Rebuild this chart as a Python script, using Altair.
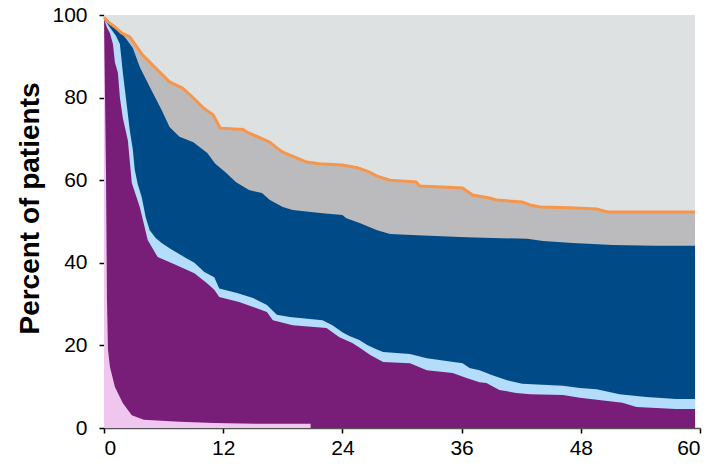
import altair as alt
import pandas as pd

# Follow-up time in months, cumulative percent of patients for each outcome boundary
END = 59.5

bg_month = [0, END]
bg_pct = [100, 100]

orange_month = [0, 0.4, 1.1, 1.8, 2.6, 3.3, 3.9, 4.6, 5.6, 6.6, 7.9, 9.0, 10.0, 11.0, 11.7,
                14.0, 14.5, 15.4, 16.7, 17.3, 18.0, 19.2, 20.4, 21.7, 24.0, 25.5, 26.5, 27.5, 28.8,
                31.4, 31.8, 36.1, 37.1, 38.8, 39.5, 42.1, 42.9, 43.9, 46.9, 49.6, 50.7, END]
orange_pct = [99.5, 98.3, 97.1, 95.6, 94.7, 92.3, 90.3, 88.6, 86.2, 83.8, 82.3, 79.9, 77.5, 75.8, 72.6,
              72.3, 71.5, 70.6, 69.2, 68.0, 66.8, 65.6, 64.4, 64.0, 63.7, 63.0, 62.2, 61.0, 60.0,
              59.6, 58.6, 58.1, 56.4, 55.7, 55.2, 54.7, 54.0, 53.5, 53.3, 53.0, 52.3, 52.3]

blue_month = [0, 0.6, 1.3, 2.3, 2.9, 3.6, 4.6, 5.8, 6.6, 7.6, 9.0, 10.4, 11.2, 12.2, 13.3, 14.6,
              15.9, 16.7, 18.0, 19.0, 22.0, 24.0, 24.4, 25.8, 27.5, 28.8, 31.5, 36.5, 42.6,
              44.2, 47.2, 51.2, 55.4, END]
blue_pct = [99.5, 98.3, 96.9, 94.0, 92.0, 87.4, 82.6, 77.0, 72.9, 70.5, 69.2, 66.6, 64.0, 62.0, 59.5, 57.6,
            56.9, 55.2, 53.5, 52.8, 52.0, 51.6, 50.8, 49.6, 47.9, 47.0, 46.7, 46.2, 45.8,
            45.3, 44.8, 44.3, 44.1, 44.1]

light_month = [0, 0.6, 1.2, 1.6, 1.9, 2.3, 2.6, 2.9, 3.1, 3.4, 3.8, 4.2, 4.6, 5.2, 5.8, 6.6, 7.4,
               8.2, 9.1, 10.1, 11.1, 11.6, 13.4, 15.0, 16.4, 17.4, 18.7, 22.0, 23.0, 24.0, 24.7,
               25.7, 26.5, 27.3, 28.1, 30.8, 32.5, 36.1, 36.8, 37.8, 39.1, 40.5, 42.1, 46.2,
               47.9, 49.6, 51.9, 54.6, 57.6, END]
light_pct = [99.0, 97.0, 95.0, 93.0, 86.0, 78.0, 72.0, 67.5, 62.5, 59.0, 55.9, 51.0, 47.9, 46.0, 44.8, 43.5, 42.4,
             41.2, 40.0, 37.8, 36.5, 33.8, 32.7, 31.5, 29.8, 27.4, 26.9, 26.1, 24.9, 23.2, 22.3,
             21.3, 20.1, 19.2, 18.4, 17.9, 16.9, 15.7, 14.5, 14.0, 12.8, 11.6, 10.7, 10.2,
             9.7, 9.4, 8.2, 7.5, 7.0, 7.0]

purple_month = [0, 0.3, 0.6, 0.9, 1.1, 1.4, 1.6, 1.9, 2.4, 2.8, 3.6, 4.4, 5.4, 7.2, 9.1, 9.7, 10.4,
                11.1, 11.6, 13.6, 16.4, 17.0, 19.0, 22.4, 23.7, 25.0, 25.9, 26.8, 28.1, 30.8,
                32.5, 35.1, 36.5, 37.8, 38.5, 39.8, 41.5, 42.9, 46.2, 47.9, 52.2, 53.6, 57.6, END]
purple_pct = [99.0, 97.0, 95.6, 93.0, 88.5, 86.0, 80.0, 75.0, 69.7, 59.3, 53.5, 45.5, 41.4, 39.5, 37.5, 36.3, 35.0,
              33.5, 31.7, 30.5, 28.1, 26.1, 24.9, 24.2, 22.0, 20.6, 19.2, 17.7, 16.0, 15.7,
              14.0, 13.3, 12.1, 11.1, 10.9, 9.2, 8.5, 8.2, 8.0, 7.3, 6.1, 5.1, 4.6, 4.6]

pink_month = [0, 0.05, 0.2, 0.3, 0.4, 0.6, 1.1, 1.9, 2.8, 4.0, 7.6, 11.1, 15.5, 20.8, 20.8]
pink_pct = [100, 90, 62, 31, 19, 14.8, 9.9, 6.0, 3.1, 2.0, 1.5, 1.2, 1.0, 1.0, 0]

x_ticks = [0, 12, 24, 36, 48, 60]
y_ticks = [0, 20, 40, 60, 80, 100]

FONT = "Liberation Sans"

x_enc = alt.X(
    "month:Q",
    scale=alt.Scale(domain=[0, 60], nice=False, zero=False),
    axis=alt.Axis(values=x_ticks, title=None, grid=False, domainColor="#555555",
                  domainWidth=1.5, tickColor="black", tickSize=5, tickWidth=1.5,
                  labelFontSize=21, labelFont=FONT, labelColor="black", labelPadding=4),
)
y_enc = alt.Y(
    "pct:Q",
    scale=alt.Scale(domain=[0, 100], nice=False),
    axis=alt.Axis(values=y_ticks, title="Percent of patients", grid=False, domain=False,
                  tickColor="black", tickSize=5, tickWidth=1.5,
                  labelFontSize=21, labelFont=FONT, labelColor="black", labelPadding=12,
                  titleFont=FONT, titleFontSize=28, titleFontWeight="bold", titleColor="black",
                  titleAngle=-90, titleX=-74, titleY=193, titleAlign="center",
                  titleBaseline="middle"),
)


def frame(months, pcts):
    return pd.DataFrame({"month": months, "pct": pcts})


def band(months, pcts, color):
    return alt.Chart(frame(months, pcts)).mark_area(
        interpolate="linear", color=color, opacity=1
    ).encode(x=x_enc, y=y_enc)


layers = [
    band(bg_month, bg_pct, "#DEE1E2"),
    band(orange_month, orange_pct, "#BBBBBD"),
    band(blue_month, blue_pct, "#004A87"),
    band(light_month, light_pct, "#B3DDFB"),
    band(purple_month, purple_pct, "#781E78"),
    band(pink_month, pink_pct, "#EEC6EE"),
    alt.Chart(frame(orange_month, orange_pct)).mark_line(
        interpolate="linear", color="#F5964B", strokeWidth=3
    ).encode(x=x_enc, y=y_enc),
]

chart = alt.layer(*layers).properties(
    width=596,
    height=413,
    autosize=alt.AutoSizeParams(type="none"),
    padding={"left": 104, "top": 15, "right": 12, "bottom": 38},
    background="white",
).configure_view(stroke=None)

chart.save("out.html", embed_options={"renderer": "svg", "actions": False})
